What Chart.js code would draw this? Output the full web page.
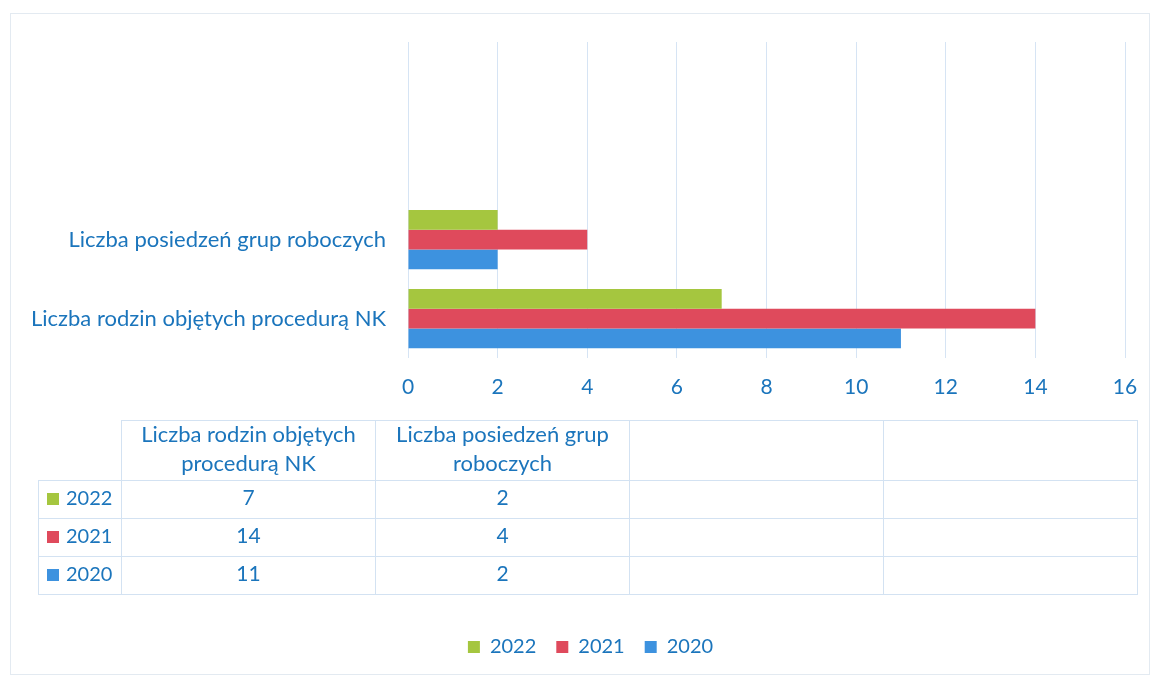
<!DOCTYPE html>
<html>
  <head>
    <title>Wykres</title>
    <meta charset="utf-8" />
    <script src="https://cdn.jsdelivr.net/npm/chart.js"></script>
  </head>
<style>
  body { margin: 0; background: #fff; }
  .page { position: relative; width: 1156px; height: 679px; overflow: hidden; }
  .frame { position: absolute; left: 10px; top: 13px; width: 1140px; height: 662px; border: 1px solid #e3eaf1; box-sizing: border-box; }
  canvas { position: absolute; left: 0; top: 0; }
  .tabela { position: absolute; left: 38px; top: 420px; border-collapse: collapse; table-layout: fixed;
    font-family: Lato, "Open Sans", sans-serif; font-size: 21px; color: #1b75bc; }
  .tabela td { border: 1px solid #d3e2f2; text-align: center; padding: 0; }
  .tabela td > span.t { position: relative; top: -3px; }
  .tabela tr.naglowek td { height: 59px; line-height: 29px; font-size: 22px; }
  .tabela tr.wiersz td { height: 37px; }
  .tabela td.pusta { border-top: none; border-left: none; }
  .tabela td.seria { text-align: left; padding-left: 8px; font-size: 20px; }
  .kw { display: inline-block; width: 12px; height: 12px; margin-right: 7px; vertical-align: 0; }
</style>
  <body>
    <div class="page">
      <div class="frame"></div>
      <canvas id="wykres" width="1156" height="679"></canvas>
      <table class="tabela" id="tabela"></table>
    </div>
    <script>
      // dane z wykresu
      const kategorie = ['Liczba rodzin objętych procedurą NK', 'Liczba posiedzeń grup roboczych', '', ''];
      const naglowkiTabeli = [['Liczba rodzin objętych', 'procedurą NK'], ['Liczba posiedzeń grup', 'roboczych'], [], []];
      const lata = ['2022', '2021', '2020'];
      const dane2022 = [7, 2, null, null];
      const dane2021 = [14, 4, null, null];
      const dane2020 = [11, 2, null, null];
      const kolory = ['#a5c63f', '#df4a5c', '#3d92df'];
      const osX = [0, 2, 4, 6, 8, 10, 12, 14, 16];

      const kolorTekstu = '#1b75bc';
      const rodzina = 'Lato, "Open Sans", sans-serif';
      const serie = [dane2022, dane2021, dane2020];

      // tabela danych pod wykresem
      const tabela = document.getElementById('tabela');
      const szer = [83, 254, 254, 254, 254];
      let html = '<colgroup>' + szer.map(w => '<col style="width:' + w + 'px">').join('') + '</colgroup>';
      html += '<tr class="naglowek"><td class="pusta"></td>' +
        naglowkiTabeli.map(n => '<td><span class="t">' + n.join('<br>') + '</span></td>').join('') + '</tr>';
      lata.forEach((rok, i) => {
        html += '<tr class="wiersz"><td class="seria"><span class="t"><span class="kw" style="background:' + kolory[i] + '"></span>' + rok + '</span></td>' +
          serie[i].map(v => '<td><span class="t">' + (v === null ? '' : v) + '</span></td>').join('') + '</tr>';
      });
      tabela.innerHTML = html;

      // legenda przesunięta w prawo, jak w oryginale
      const przesunLegende = {
        id: 'przesunLegende',
        afterLayout(chart) {
          chart.legend.left += 28;
          chart.legend.right += 28;
        }
      };

      const ctx = document.getElementById('wykres').getContext('2d');
      new Chart(ctx, {
        type: 'bar',
        data: {
          labels: kategorie,
          datasets: lata.map((rok, i) => ({
            label: rok,
            data: serie[i],
            backgroundColor: kolory[i],
            borderWidth: 0,
            categoryPercentage: 0.75,
            barPercentage: 1.0
          }))
        },
        options: {
          indexAxis: 'y',
          responsive: false,
          animation: false,
          devicePixelRatio: 1,
          layout: { padding: { top: 42, right: 31, left: 0, bottom: 12 } },
          plugins: {
            tooltip: { enabled: false },
            legend: {
              position: 'bottom',
              labels: { font: { family: rodzina, size: 20 }, color: kolorTekstu, boxWidth: 12, boxHeight: 12, padding: 20 }
            }
          },
          scales: {
            x: {
              min: 0,
              max: 16,
              afterBuildTicks: s => { s.ticks = osX.map(v => ({ value: v })); },
              afterFit: s => { s.height = 259; },
              ticks: { font: { family: rodzina, size: 21 }, color: kolorTekstu, padding: 17 },
              grid: { color: '#d6e4f4', drawTicks: false },
              border: { display: false }
            },
            y: {
              reverse: true,
              afterFit: s => { s.width = 408; },
              ticks: { font: { family: rodzina, size: 22 }, color: kolorTekstu, padding: 22 },
              grid: { display: false, drawTicks: false },
              border: { display: false }
            }
          }
        },
        plugins: [przesunLegende]
      });
    </script>
  </body>
</html>
